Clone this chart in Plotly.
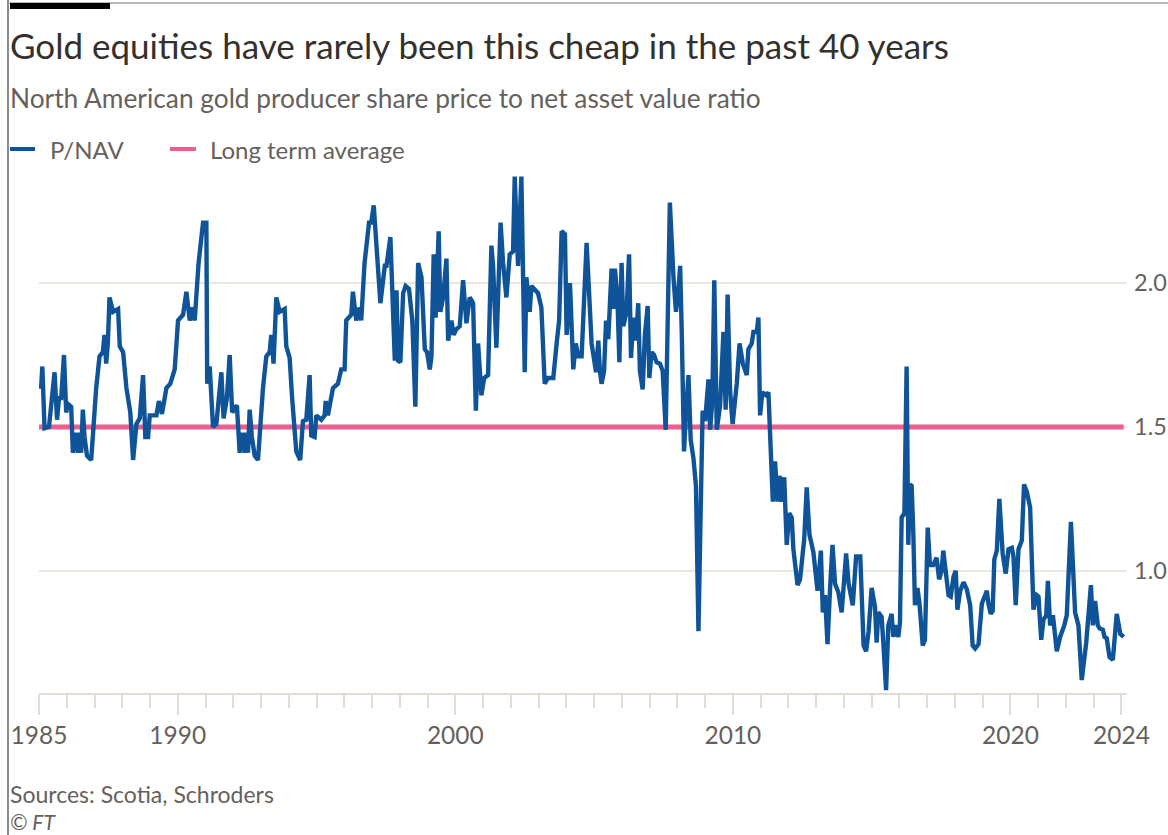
import plotly.graph_objects as go

# P/NAV ratio of North American gold producers (decimal years)
years = [
    1985.00, 1985.08, 1985.12, 1985.20, 1985.36, 1985.56, 1985.65, 1985.72, 1985.80, 1985.90,
    1985.98, 1986.04, 1986.16, 1986.22, 1986.34, 1986.40, 1986.46, 1986.52, 1986.58, 1986.64,
    1986.73, 1986.88, 1987.06, 1987.18, 1987.30, 1987.36, 1987.42, 1987.48, 1987.54, 1987.67,
    1987.85, 1987.91, 1988.03, 1988.15, 1988.29, 1988.39, 1988.51, 1988.63, 1988.75, 1988.83,
    1988.93, 1988.99, 1989.23, 1989.32, 1989.43, 1989.59, 1989.73, 1989.89, 1990.01, 1990.19,
    1990.31, 1990.43, 1990.52, 1990.61, 1990.75, 1990.91, 1991.03, 1991.06, 1991.15, 1991.27,
    1991.39, 1991.57, 1991.65, 1991.77, 1991.87, 1991.96, 1992.13, 1992.23, 1992.32, 1992.41,
    1992.47, 1992.53, 1992.59, 1992.67, 1992.77, 1992.89, 1993.07, 1993.19, 1993.31, 1993.37,
    1993.45, 1993.49, 1993.55, 1993.67, 1993.85, 1993.91, 1994.03, 1994.12, 1994.27, 1994.41,
    1994.51, 1994.63, 1994.75, 1994.81, 1994.93, 1994.99, 1995.17, 1995.29, 1995.33, 1995.41,
    1995.59, 1995.77, 1995.89, 1996.01, 1996.07, 1996.25, 1996.31, 1996.43, 1996.55, 1996.61,
    1996.73, 1996.89, 1996.97, 1997.06, 1997.13, 1997.30, 1997.46, 1997.52, 1997.66, 1997.76,
    1997.82, 1997.88, 1997.94, 1998.02, 1998.12, 1998.21, 1998.33, 1998.45, 1998.56, 1998.66,
    1998.78, 1998.90, 1998.98, 1999.08, 1999.14, 1999.22, 1999.29, 1999.40, 1999.46, 1999.56,
    1999.68, 1999.74, 1999.86, 1999.94, 2000.04, 2000.16, 2000.28, 2000.40, 2000.52, 2000.64,
    2000.74, 2000.82, 2000.94, 2001.04, 2001.18, 2001.30, 2001.36, 2001.48, 2001.63, 2001.72,
    2001.84, 2001.96, 2002.08, 2002.14, 2002.26, 2002.38, 2002.50, 2002.56, 2002.68, 2002.74,
    2002.86, 2002.98, 2003.10, 2003.22, 2003.34, 2003.53, 2003.65, 2003.74, 2003.83, 2003.95,
    2004.01, 2004.13, 2004.25, 2004.34, 2004.43, 2004.55, 2004.73, 2004.91, 2005.07, 2005.15,
    2005.21, 2005.27, 2005.36, 2005.43, 2005.51, 2005.63, 2005.69, 2005.75, 2005.84, 2005.91,
    2005.99, 2006.05, 2006.17, 2006.26, 2006.33, 2006.41, 2006.51, 2006.59, 2006.65, 2006.75,
    2006.83, 2006.93, 2006.99, 2007.07, 2007.16, 2007.25, 2007.37, 2007.47, 2007.58, 2007.68,
    2007.73, 2007.86, 2007.95, 2008.04, 2008.10, 2008.16, 2008.24, 2008.31, 2008.40, 2008.48,
    2008.58, 2008.67, 2008.76, 2008.84, 2008.91, 2009.00, 2009.12, 2009.18, 2009.26, 2009.33,
    2009.42, 2009.54, 2009.66, 2009.74, 2009.81, 2009.90, 2009.99, 2010.14, 2010.24, 2010.36,
    2010.50, 2010.56, 2010.68, 2010.74, 2010.86, 2010.92, 2010.98, 2011.06, 2011.20, 2011.28,
    2011.44, 2011.52, 2011.61, 2011.68, 2011.76, 2011.85, 2011.94, 2012.03, 2012.12, 2012.18,
    2012.33, 2012.42, 2012.57, 2012.66, 2012.76, 2012.90, 2013.05, 2013.17, 2013.24, 2013.32,
    2013.41, 2013.50, 2013.59, 2013.68, 2013.80, 2013.92, 2014.08, 2014.17, 2014.32, 2014.44,
    2014.59, 2014.71, 2014.80, 2014.89, 2015.00, 2015.12, 2015.18, 2015.24, 2015.36, 2015.42,
    2015.52, 2015.60, 2015.72, 2015.78, 2015.84, 2015.96, 2016.02, 2016.08, 2016.18, 2016.26,
    2016.32, 2016.38, 2016.44, 2016.50, 2016.56, 2016.65, 2016.72, 2016.84, 2016.92, 2017.02,
    2017.10, 2017.22, 2017.34, 2017.43, 2017.52, 2017.58, 2017.68, 2017.77, 2017.85, 2017.95,
    2018.03, 2018.09, 2018.19, 2018.31, 2018.43, 2018.55, 2018.64, 2018.73, 2018.85, 2018.97,
    2019.05, 2019.15, 2019.21, 2019.29, 2019.36, 2019.42, 2019.51, 2019.60, 2019.72, 2019.83,
    2019.93, 2020.05, 2020.11, 2020.19, 2020.29, 2020.41, 2020.49, 2020.59, 2020.71, 2020.77,
    2020.83, 2020.95, 2021.01, 2021.11, 2021.19, 2021.29, 2021.35, 2021.43, 2021.53, 2021.67,
    2021.79, 2021.94, 2022.03, 2022.18, 2022.33, 2022.45, 2022.57, 2022.73, 2022.90, 2022.97,
    2023.05, 2023.15, 2023.21, 2023.33, 2023.39, 2023.47, 2023.57, 2023.69, 2023.83, 2023.96,
    2024.08,
]

p_nav = [
    1.64, 1.64, 1.71, 1.495, 1.50, 1.69, 1.525, 1.60, 1.60, 1.75,
    1.55, 1.58, 1.57, 1.41, 1.48, 1.41, 1.48, 1.41, 1.56, 1.465,
    1.40, 1.385, 1.635, 1.745, 1.76, 1.82, 1.72, 1.79, 1.95, 1.90,
    1.91, 1.78, 1.76, 1.635, 1.55, 1.385, 1.51, 1.53, 1.68, 1.465,
    1.465, 1.54, 1.54, 1.59, 1.545, 1.635, 1.65, 1.70, 1.87, 1.89,
    1.97, 1.87, 1.915, 1.87, 2.07, 2.21, 2.21, 1.65, 1.71, 1.50,
    1.51, 1.69, 1.53, 1.60, 1.75, 1.55, 1.575, 1.41, 1.48, 1.41,
    1.48, 1.41, 1.56, 1.465, 1.40, 1.385, 1.635, 1.745, 1.76, 1.82,
    1.72, 1.79, 1.95, 1.90, 1.91, 1.78, 1.74, 1.60, 1.415, 1.385,
    1.52, 1.525, 1.68, 1.47, 1.465, 1.54, 1.525, 1.54, 1.59, 1.54,
    1.635, 1.65, 1.70, 1.70, 1.87, 1.89, 1.97, 1.87, 1.915, 1.87,
    2.07, 2.21, 2.21, 2.27, 2.18, 1.93, 2.06, 2.06, 2.16, 1.84,
    1.73, 1.975, 1.73, 1.725, 1.965, 1.99, 1.98, 1.87, 1.57, 2.07,
    2.02, 1.77, 1.76, 1.70, 1.745, 2.10, 1.88, 2.18, 1.90, 1.95,
    2.085, 1.80, 1.87, 1.82, 1.84, 1.85, 2.01, 1.86, 1.95, 1.93,
    1.556, 1.79, 1.61, 1.67, 1.68, 2.13, 2.06, 1.775, 2.21, 2.07,
    1.95, 2.10, 2.11, 2.37, 2.06, 2.37, 1.69, 2.02, 1.90, 1.99,
    1.98, 1.965, 1.915, 1.65, 1.67, 1.67, 1.79, 1.87, 2.18, 2.17,
    1.82, 2.00, 1.70, 1.79, 1.745, 1.745, 2.14, 1.79, 1.69, 1.80,
    1.695, 1.65, 1.695, 1.87, 1.805, 2.05, 1.91, 2.05, 1.95, 1.725,
    2.07, 1.85, 1.90, 2.10, 1.74, 1.88, 1.80, 1.93, 1.695, 1.63,
    1.82, 1.92, 1.67, 1.76, 1.75, 1.725, 1.72, 1.695, 1.49, 1.975,
    2.28, 2.02, 1.90, 1.975, 2.06, 1.82, 1.415, 1.55, 1.68, 1.455,
    1.39, 1.295, 0.79, 1.21, 1.556, 1.52, 1.665, 1.49, 1.59, 2.01,
    1.49, 1.575, 1.83, 1.56, 1.96, 1.625, 1.51, 1.65, 1.79, 1.72,
    1.68, 1.77, 1.79, 1.83, 1.83, 1.88, 1.54, 1.62, 1.61, 1.62,
    1.24, 1.38, 1.24, 1.33, 1.24, 1.325, 1.09, 1.20, 1.185, 1.075,
    0.95, 0.97, 1.11, 1.29, 1.125, 1.065, 0.93, 1.07, 0.855, 0.915,
    0.745, 0.935, 1.09, 0.955, 0.925, 0.855, 1.06, 0.955, 0.88, 1.05,
    1.05, 0.74, 0.72, 0.79, 0.94, 0.875, 0.75, 0.855, 0.84, 0.75,
    0.585, 0.81, 0.85, 0.77, 0.81, 0.77, 0.82, 1.185, 1.20, 1.71,
    1.09, 1.30, 1.295, 1.135, 0.88, 0.94, 0.89, 0.74, 0.76, 1.15,
    1.02, 1.02, 1.045, 0.97, 1.00, 1.07, 0.98, 0.915, 0.91, 0.98,
    1.00, 0.865, 0.93, 0.96, 0.935, 0.88, 0.74, 0.73, 0.745, 0.885,
    0.905, 0.93, 0.885, 0.85, 0.86, 1.04, 1.07, 1.25, 1.06, 0.99,
    1.075, 1.08, 1.05, 0.88, 1.075, 1.105, 1.30, 1.275, 1.22, 1.025,
    0.865, 0.915, 0.91, 0.76, 0.83, 0.845, 0.965, 0.81, 0.845, 0.72,
    0.77, 0.81, 0.845, 1.17, 0.855, 0.81, 0.62, 0.75, 0.95, 0.81,
    0.895, 0.81, 0.80, 0.795, 0.77, 0.765, 0.70, 0.69, 0.85, 0.78,
    0.77,
]

long_term_average = 1.5

x_tick_vals = [1985, 1990, 2000, 2010, 2020, 2024]
x_tick_text = ["1985", "1990", "2000", "2010", "2020", "2024"]
y_tick_vals = [1.0, 1.5, 2.0]
y_tick_text = ["1.0", "1.5", "2.0"]

title_text = "Gold equities have rarely been this cheap in the past 40 years"
subtitle_text = "North American gold producer share price to net asset value ratio"
legend_labels = ["P/NAV", "Long term average"]
source_text = "Sources: Scotia, Schroders"
credit_text = "© FT"

# ---- styling / layout ----
W, H = 1168, 835
M_L, M_R, M_T, M_B = 39, 41, 168, 142
BLUE = "#0f5499"
PINK = "#eb5f8e"
GRID = "#ece6e1"
AXIS = "#e2dad4"
TEXT_DARK = "#33302e"
TEXT_GREY = "#66605c"
FONT = "Lato, 'Noto Sans', sans-serif"

plot_w = W - M_L - M_R
plot_h = H - M_T - M_B


def px(x):
    return (x - M_L) / plot_w


def py(y):
    return (H - M_B - y) / plot_h


fig = go.Figure()

fig.add_trace(go.Scatter(
    x=[years[0], years[-1]], y=[long_term_average, long_term_average],
    mode="lines", line=dict(color=PINK, width=5),
    name=legend_labels[1], showlegend=False, hoverinfo="skip",
))
fig.add_trace(go.Scatter(
    x=years, y=p_nav, mode="lines",
    line=dict(color=BLUE, width=4.4, shape="linear"),
    name=legend_labels[0], showlegend=False,
))

shapes = [
    # page frame: left rule and top rule
    dict(type="line", xref="paper", yref="paper", x0=px(8), x1=px(8), y0=py(0), y1=py(H),
         line=dict(color="#8c8c8c", width=2)),
    dict(type="line", xref="paper", yref="paper", x0=px(8), x1=px(W), y0=py(3), y1=py(3),
         line=dict(color="#a0a0a0", width=1.5)),
    # black tab at top left
    dict(type="rect", xref="paper", yref="paper", x0=px(10), x1=px(110), y0=py(3), y1=py(9),
         fillcolor="#000000", line=dict(width=0)),
    # legend swatches
    dict(type="line", xref="paper", yref="paper", x0=px(10), x1=px(35), y0=py(149), y1=py(149),
         line=dict(color=BLUE, width=4)),
    dict(type="line", xref="paper", yref="paper", x0=px(170), x1=px(196), y0=py(149), y1=py(149),
         line=dict(color=PINK, width=4)),
]

annotations = [
    dict(text=title_text, x=px(8), y=py(45), font=dict(size=35, color=TEXT_DARK, family=FONT)),
    dict(text=subtitle_text, x=px(8), y=py(98), font=dict(size=26.3, color=TEXT_GREY, family=FONT)),
    dict(text=legend_labels[0], x=px(48), y=py(149), font=dict(size=24, color=TEXT_GREY, family=FONT)),
    dict(text=legend_labels[1], x=px(208), y=py(149), font=dict(size=24, color=TEXT_GREY, family=FONT)),
    dict(text=source_text, x=px(8), y=py(794), font=dict(size=23, color=TEXT_GREY, family=FONT)),
    dict(text="<i>" + credit_text + "</i>", x=px(8), y=py(821.5), font=dict(size=21, color=TEXT_GREY, family=FONT)),
]
for a in annotations:
    a.update(xref="paper", yref="paper", xanchor="left", yanchor="middle", showarrow=False)

fig.update_layout(
    width=W, height=H,
    margin=dict(l=M_L, r=M_R, t=M_T, b=M_B, pad=0),
    paper_bgcolor="white", plot_bgcolor="white",
    template="none",
    showlegend=False,
    shapes=shapes,
    annotations=annotations,
    font=dict(family=FONT, color=TEXT_GREY),
)

fig.update_xaxes(
    range=[1985, 2024.2],
    tickmode="array", tickvals=x_tick_vals, ticktext=x_tick_text,
    ticks="outside", ticklen=20, tickwidth=1.5, tickcolor=AXIS,
    tickfont=dict(size=24.5, color=TEXT_GREY, family=FONT),
    minor=dict(tickmode="array", tickvals=list(range(1985, 2025)), ticks="outside",
               ticklen=13, tickwidth=1.5, tickcolor=AXIS, showgrid=False),
    showgrid=False, zeroline=False,
    showline=True, linecolor=AXIS, linewidth=2,
    automargin=False,
)

fig.update_yaxes(
    range=[0.575, 2.4], side="right",
    tickmode="array", tickvals=y_tick_vals, ticktext=y_tick_text,
    ticks="", ticklabelstandoff=6,
    tickfont=dict(size=23.5, color=TEXT_GREY, family=FONT),
    showgrid=True, gridcolor=GRID, gridwidth=2,
    zeroline=False, showline=False,
    automargin=False,
)

fig.write_html("out.html", post_script="document.body.style.margin='0';")
